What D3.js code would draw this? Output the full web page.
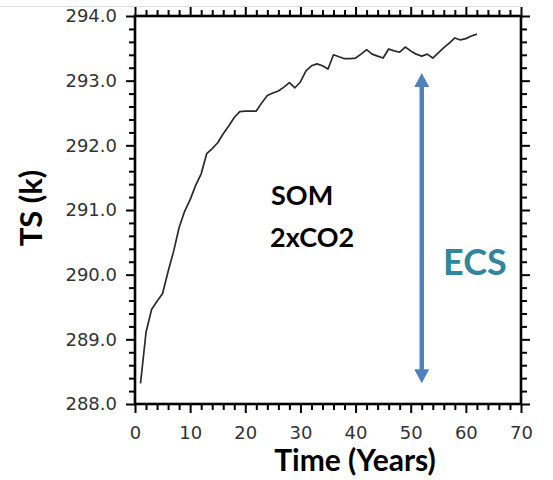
<!DOCTYPE html>
<html><head><meta charset="utf-8">
<script src="https://cdn.jsdelivr.net/npm/d3@7"></script>
<style>body{margin:0;background:#fff}</style>
</head><body>
<svg id="c" width="553" height="480"></svg>
<script>
const years = d3.range(1, 63);
const ts = [288.32,289.11,289.46,289.59,289.71,290.05,290.36,290.73,290.98,291.16,
291.38,291.56,291.87,291.95,292.04,292.18,292.30,292.43,292.52,292.53,
292.53,292.53,292.66,292.77,292.81,292.84,292.90,292.97,292.89,292.98,
293.15,293.23,293.26,293.23,293.18,293.40,293.37,293.34,293.34,293.35,
293.41,293.48,293.41,293.38,293.35,293.49,293.46,293.44,293.52,293.46,
293.41,293.38,293.41,293.35,293.43,293.51,293.58,293.66,293.63,293.65,
293.69,293.72];
const xTicks = [0,10,20,30,40,50,60,70];
const yTicks = [288,289,290,291,292,293,294];
const ecs = {year: 52, low: 288.32, high: 293.12};

const svg = d3.select("#c");
const x = d3.scaleLinear().domain([0,70]).range([135,521]);
const y = d3.scaleLinear().domain([288,294]).range([404,16]);

svg.append("line").attr("x1",0).attr("x2",521).attr("y1",6.5).attr("y2",6.5)
  .attr("stroke","#dcdcdc").attr("stroke-width",1);

const minorX = d3.range(0,71,2).filter(v=>v%10!==0);
const minorY = d3.range(0,31).map(i=>288+i*0.2).filter((v,i)=>i%5!==0);

function styleAxis(g){
  g.select(".domain").remove();
  g.selectAll(".tick line").attr("stroke","#000").attr("stroke-width",2);
  g.selectAll(".tick text").attr("fill","#333").style("font-family","DejaVu Sans, sans-serif").style("font-size","18px");
}
const gb = svg.append("g").attr("transform","translate(0,404)")
  .call(d3.axisBottom(x).tickValues(xTicks).tickFormat(d3.format("d")).tickSize(9).tickPadding(13));
styleAxis(gb);
const gbm = svg.append("g").attr("transform","translate(0,404)")
  .call(d3.axisBottom(x).tickValues(minorX).tickFormat("").tickSize(6));
styleAxis(gbm);
const gt = svg.append("g").attr("transform","translate(0,16)")
  .call(d3.axisTop(x).tickValues(xTicks).tickFormat("").tickSize(9));
styleAxis(gt);
const gtm = svg.append("g").attr("transform","translate(0,16)")
  .call(d3.axisTop(x).tickValues(minorX).tickFormat("").tickSize(6));
styleAxis(gtm);
const gl = svg.append("g").attr("transform","translate(135,0)")
  .call(d3.axisLeft(y).tickValues(yTicks).tickFormat(d3.format(".1f")).tickSize(9).tickPadding(9));
styleAxis(gl);
const glm = svg.append("g").attr("transform","translate(135,0)")
  .call(d3.axisLeft(y).tickValues(minorY).tickFormat("").tickSize(6));
styleAxis(glm);
const gr = svg.append("g").attr("transform","translate(521,0)")
  .call(d3.axisRight(y).tickValues(yTicks).tickFormat("").tickSize(9));
styleAxis(gr);
const grm = svg.append("g").attr("transform","translate(521,0)")
  .call(d3.axisRight(y).tickValues(minorY).tickFormat("").tickSize(6));
styleAxis(grm);

svg.append("rect").attr("x",135).attr("y",16).attr("width",386).attr("height",388)
  .attr("fill","none").attr("stroke","#000").attr("stroke-width",2.6);

svg.append("path").datum(years.map((d,i)=>[d,ts[i]]))
  .attr("d", d3.line().x(d=>x(d[0])).y(d=>y(d[1])))
  .attr("fill","none").attr("stroke","#2a2a2a").attr("stroke-width",1.7).attr("stroke-linejoin","round");

const blue = "#4f81bd";
const ax = x(ecs.year), yTop = y(ecs.high), yBot = y(ecs.low);
svg.append("line").attr("x1",ax).attr("x2",ax).attr("y1",yTop+12).attr("y2",yBot-12)
  .attr("stroke",blue).attr("stroke-width",4.5);
svg.append("path").attr("d",`M${ax},${yTop} L${ax-7.5},${yTop+14} L${ax+7.5},${yTop+14} Z`).attr("fill",blue);
svg.append("path").attr("d",`M${ax},${yBot} L${ax-7.5},${yBot-14} L${ax+7.5},${yBot-14} Z`).attr("fill",blue);

const bold = "Lato, 'Open Sans', sans-serif";
svg.append("text").attr("x",443).attr("y",275).text("ECS")
  .attr("fill","#31859c").style("font-family",bold).style("font-weight",700).style("font-size","36px");
svg.append("text").attr("x",271).attr("y",205).text("SOM")
  .attr("fill","#000").style("font-family",bold).style("font-weight",700).style("font-size","27px");
svg.append("text").attr("x",270).attr("y",247).text("2xCO2")
  .attr("fill","#000").style("font-family",bold).style("font-weight",700).style("font-size","27px");

svg.append("text").attr("x",355).attr("y",471).attr("text-anchor","middle").text("Time (Years)")
  .attr("fill","#000").style("font-family",bold).style("font-weight",700).style("font-size","30px");
svg.append("text").attr("transform","translate(42,208) rotate(-90)").attr("text-anchor","middle").text("TS (k)")
  .attr("fill","#000").style("font-family",bold).style("font-weight",700).style("font-size","31px");
</script>
</body></html>
